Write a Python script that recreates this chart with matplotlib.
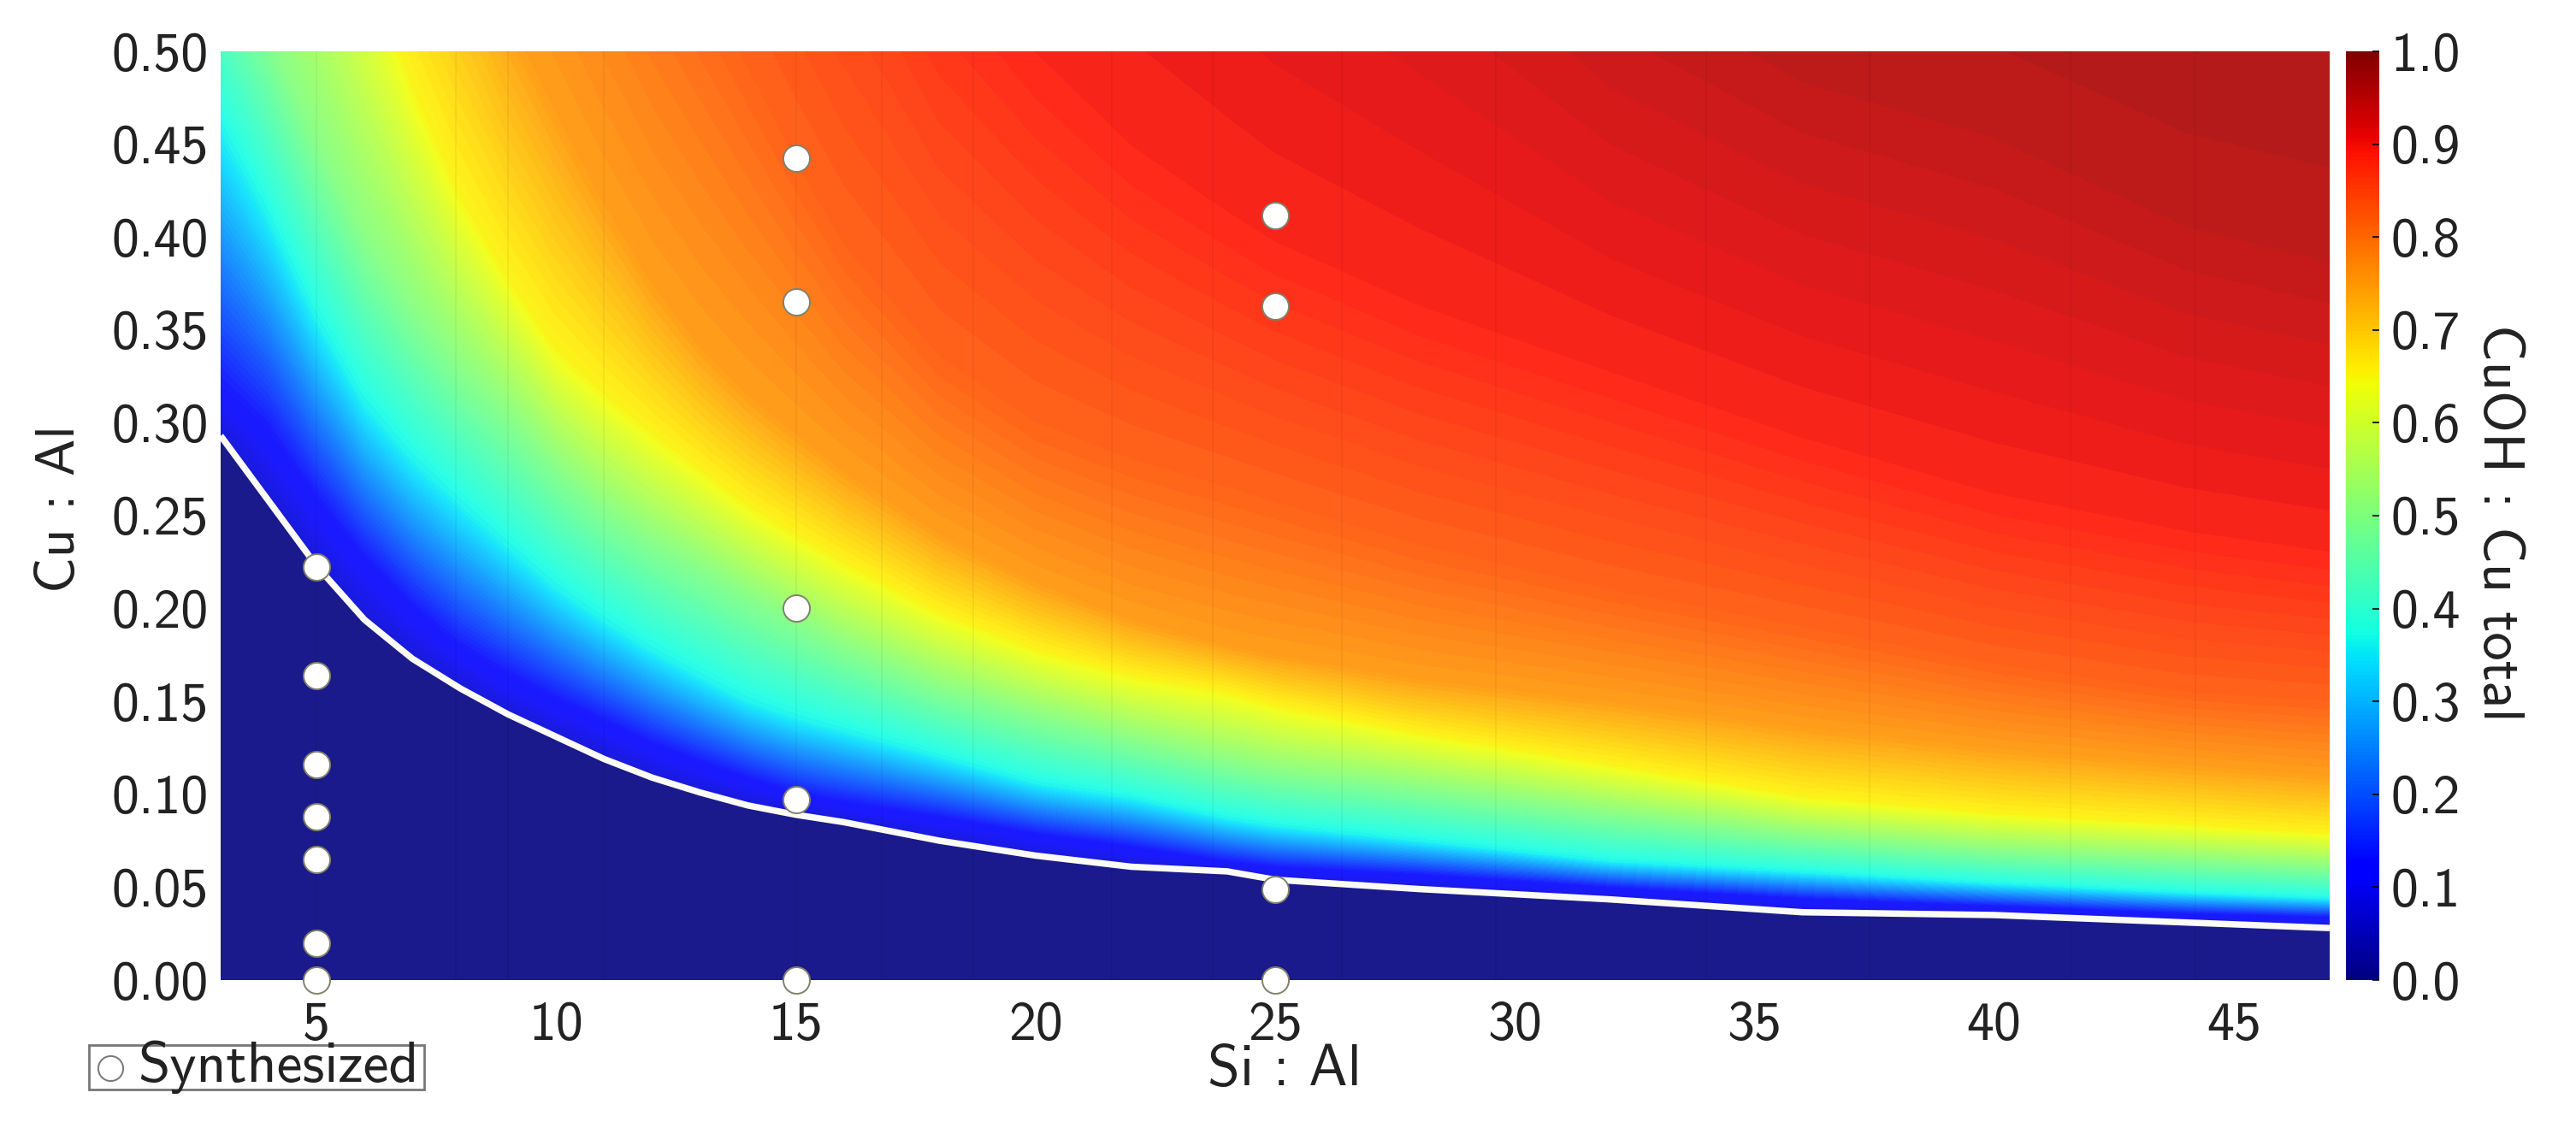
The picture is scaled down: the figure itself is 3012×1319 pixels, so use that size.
import numpy as np
import matplotlib
matplotlib.use("Agg")
import matplotlib.pyplot as plt
from matplotlib.cm import ScalarMappable
from matplotlib.colors import Normalize, ListedColormap
from matplotlib.lines import Line2D
from matplotlib.patches import Rectangle

plt.rcParams['font.family'] = ['cmss10', 'DejaVu Sans']
plt.rcParams['axes.unicode_minus'] = False

# Si:Al columns at which the iso-value curves were read
si_al = [3, 4, 5, 6, 7, 8, 9, 10, 11, 12, 13, 14, 15, 16, 18, 20, 22, 24, 25, 28, 32, 36, 40, 44, 47]

# Cu:Al of the sharp edge (white line)
edge = [.293, .258, .223, .194, .173, .157, .143, .131, .119, .109, .101, .094, .089, .085, .075, .067, .061, .0585, .054, .049, .0434, .0365, .035, .031, .028]
# Cu:Al at which CuOH:Cu total reaches each level
iso_125 = [.321, .297, .26, .228, .202, .18, .165, .152, .14, .128, .118, .109, .101, .096, .088, .079, .072, .064, .061, .057, .05, .044, .04, .036, .034]
iso_360 = [.4586, .41, .355, .31, .28, .256, .233, .211, .193, .177, .163, .15, .141, .134, .12, .106, .098, .087, .083, .075, .064, .058, .052, .047, .044]
iso_500 = [.56, .51, .452, .40, .362, .33, .305, .277, .255, .237, .223, .208, .194, .18, .158, .143, .13, .118, .113, .104, .09, .078, .07, .065, .061]
iso_650 = [.78, .71, .635, .555, .482, .422, .378, .34, .316, .295, .275, .256, .24, .225, .198, .178, .164, .155, .148, .133, .116, .099, .09, .084, .079]
iso_750 = [.94, .87, .80, .73, .66, .59, .52, .467, .418, .375, .341, .315, .294, .274, .24, .214, .194, .18, .175, .162, .15, .136, .125, .116, .11]
iso_820 = [1.35, 1.25, 1.15, 1.06, .97, .88, .80, .72, .65, .59, .54, .49, .44, .395, .335, .30, .28, .265, .257, .234, .21, .19, .17, .155, .15]
iso_890 = [1.8, 1.7, 1.6, 1.5, 1.4, 1.3, 1.2, 1.1, 1.02, .95, .87, .8, .74, .68, .56, .495, .445, .41, .394, .36, .325, .29, .26, .24, .229]
iso_950 = [2.3, 2.2, 2.1, 2.0, 1.9, 1.8, 1.7, 1.6, 1.5, 1.42, 1.35, 1.28, 1.2, 1.15, 1.05, .96, .88, .8, .76, .68, .56, .5, .47, .42, .40]
iso_1000 = [3.0, 2.9, 2.8, 2.7, 2.6, 2.5, 2.4, 2.3, 2.2, 2.1, 2.0, 1.9, 1.8, 1.7, 1.6, 1.5, 1.4, 1.3, 1.3, 1.2, 1.1, 1.05, 1.0, 1.0, 1.0]
bottom = [0.0] * len(si_al)

levels = [0.0, 0.0, 0.07, 0.125, 0.36, 0.5, 0.65, 0.75, 0.82, 0.89, 0.95, 1.0]
rows = [bottom, edge, edge, iso_125, iso_360, iso_500, iso_650, iso_750, iso_820, iso_890, iso_950, iso_1000]

# faint cell borders seen in the map
cell_lines = [5, 7.9, 9, 11, 15, 16.8, 18.7, 21.6, 23.7, 26.4, 29.6, 34, 37.4, 41.6, 44.2]

# Synthesized samples
syn_si = [5, 5, 5, 5, 5, 5, 5, 15, 15, 15, 15, 15, 25, 25, 25, 25]
syn_cu = [.2226, .164, .116, .088, .065, .020, 0, .4426, .365, .2005, .097, 0, .4117, .363, .0486, 0]

x_ticks = [5, 10, 15, 20, 25, 30, 35, 40, 45]
y_ticks = [0, .05, .10, .15, .20, .25, .30, .35, .40, .45, .50]
c_ticks = [0, .1, .2, .3, .4, .5, .6, .7, .8, .9, 1.0]

W, H = 3012, 1319
fig = plt.figure(figsize=(W / 200, H / 200), dpi=200, facecolor='white')
ax = fig.add_axes([258 / W, 1 - 1146 / H, (2724 - 258) / W, (1146 - 60) / H])
cax = fig.add_axes([2743 / W, 1 - 1146 / H, 39 / W, (1146 - 60) / H])

jet = plt.get_cmap('jet')
washed = ListedColormap(0.9 * jet(np.linspace(0, 1, 256))[:, :3] + 0.1)

X = np.tile(np.array(si_al, float), (len(rows), 1))
Y = np.array(rows)
Z = np.tile(np.array(levels)[:, None], (1, len(si_al)))
bands = np.linspace(0, 1, 129)
bands[0] = -0.001
ax.contourf(X, Y, Z, levels=bands, cmap=washed, norm=Normalize(0, 1))
ax.vlines(cell_lines, 0, .5, color='black', alpha=.05, lw=.6, zorder=2)
ax.plot(si_al, edge, color='#fbfbf6', lw=2.7, zorder=3, solid_capstyle='butt', solid_joinstyle='round')
ax.scatter(syn_si, syn_cu, s=125, facecolor='white', edgecolor='#80806c', linewidth=0.7,
           zorder=4, clip_on=False)
ax.set_xlim(3, 47)
ax.set_ylim(0, .5)
ax.set_xticks(x_ticks)
ax.set_yticks(y_ticks)
ax.set_yticklabels([f'{v:.2f}' for v in y_ticks])
ax.tick_params(length=0, labelsize=23, colors='#222222', pad=5)
ax.tick_params(axis='x', pad=9)
for s in ax.spines.values():
    s.set_visible(False)

ax.set_xlabel('Si : Al', fontsize=24.5, color='#222222', va='center')
ax.xaxis.set_label_coords(.5045, -.0975)
ax.set_ylabel('Cu : Al', fontsize=23.5, color='#222222', va='center')
ax.yaxis.set_label_coords(-.076, .507)

cb = fig.colorbar(ScalarMappable(Normalize(0, 1), 'jet'), cax=cax)
cb.set_ticks(c_ticks)
cb.set_ticklabels([f'{v:.1f}' for v in c_ticks])
cb.ax.tick_params(length=3, width=.6, direction='in', labelsize=23, labelcolor='#222222', pad=5)
cb.outline.set_visible(False)
cb.set_label('CuOH : Cu total', fontsize=24, color='#222222', rotation=270, va='center')
cax.yaxis.set_label_coords(4.575, .4925)

# Legend box: the descender of the "y" pokes through the frame in the reference
fig.add_artist(Rectangle((104 / W, 1 - 1274 / H), (496 - 104) / W, (1274 - 1222) / H, transform=fig.transFigure,
                         facecolor='white', edgecolor='#777777', lw=1.0))
fig.add_artist(Line2D([129 / W], [1 - 1249 / H], transform=fig.transFigure, marker='o', ms=10.5,
                      mfc='white', mec='#777777', mew=.7, ls='none'))
fig.text(161 / W, 1 - 1265 / H, 'Synthesized', fontsize=24.3, color='#222222', va='baseline', ha='left')

fig.savefig('out.png', dpi=200, facecolor='white')
